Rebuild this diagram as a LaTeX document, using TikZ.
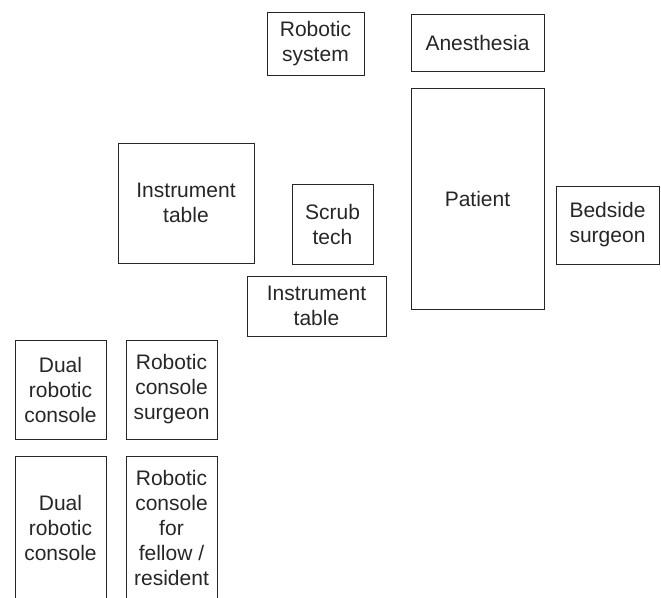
\documentclass[tikz,border=0pt]{standalone}
\usepackage{fontspec}
\setmainfont{Liberation Sans}
\begin{document}
\begin{tikzpicture}[x=1pt,y=-1pt,
  roombox/.style={draw=black!85, line width=0.9pt, align=center, inner sep=0pt,
    text=black!85, font=\fontsize{21}{25}\selectfont}]
\useasboundingbox (0,0) rectangle (661,597);
\node[roombox, minimum width=97pt, minimum height=63pt] (robsys) at (315.5,43.5) {Robotic\\system};
\node[roombox, minimum width=133pt, minimum height=57pt] (anest) at (477.5,42.5) {Anesthesia};
\node[roombox, minimum width=133pt, minimum height=221pt] (patient) at (477.5,198.5) {Patient};
\node[roombox, minimum width=103pt, minimum height=78pt] (bedside) at (607.5,225) {Bedside\\surgeon};
\node[roombox, minimum width=81pt, minimum height=80pt] (scrub) at (332.5,224) {Scrub\\tech};
\node[roombox, minimum width=139pt, minimum height=60pt] (instrB) at (316.5,306) {Instrument\\table};
\node[roombox, minimum width=136pt, minimum height=120pt] (instrA) at (186,203) {Instrument\\table};
\node[roombox, minimum width=91pt, minimum height=99pt] (dualA) at (60.5,389.5) {Dual\\robotic\\console};
\node[roombox, minimum width=91pt, minimum height=99pt] (rcsurg) at (171.5,389.5) {Robotic\\console\\surgeon};
\node[roombox, minimum width=91pt, minimum height=144pt] (dualB) at (60.5,528) {Dual\\robotic\\console};
\node[roombox, minimum width=91pt, minimum height=144pt] (fellow) at (171.5,528) {Robotic\\console\\for\\fellow /\\resident};
\end{tikzpicture}
\end{document}
